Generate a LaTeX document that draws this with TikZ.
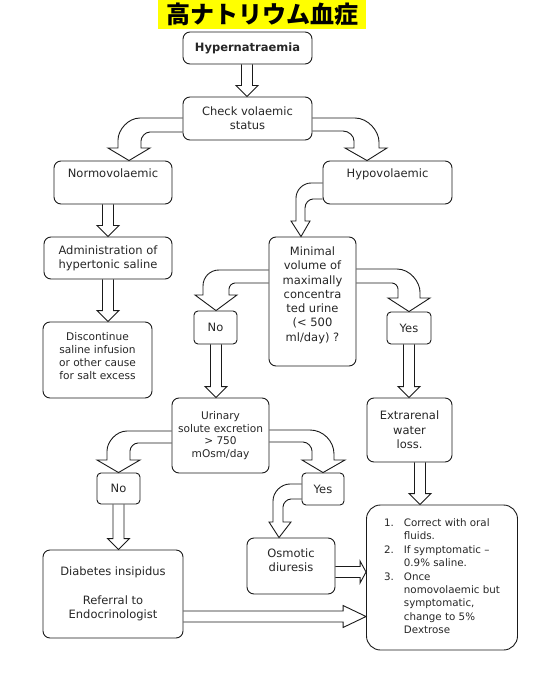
\documentclass[tikz,border=0pt]{standalone}
\usepackage{fontspec}
\setmainfont{DejaVu Sans}
\newfontfamily\cjk{Noto Sans CJK JP}
\usetikzlibrary{calc}
\definecolor{fline}{HTML}{1A1A1A}
\definecolor{ftext}{HTML}{262626}
\definecolor{fyellow}{HTML}{FFFF00}
\newcommand{\fsmain}{\fontsize{11.5}{14.3}\selectfont}
\newcommand{\fssmall}{\fontsize{10.6}{12.8}\selectfont}
\newcommand{\fslist}{\fontsize{10.3}{13.4}\selectfont}
\tikzset{
  box/.style = {draw=fline, line width=0.9pt, rounded corners=7pt,
                align=center, text=ftext, font=\fsmain, inner sep=1pt},
  tag/.style = {box, rounded corners=4pt},
  blk/.style = {draw=fline, line width=0.9pt, line join=miter},
}
% hollow block arrow, straight down: x, from, to
\newcommand{\vblk}[3]{%
  \draw[blk] let \p1=(#2.south), \p2=(#3.north) in
    (#1pt-5.5pt,\y1) -- (#1pt-5.5pt,\y2+11pt) -- (#1pt-11pt,\y2+11pt)
    -- (#1pt,\y2) -- (#1pt+11pt,\y2+11pt) -- (#1pt+5.5pt,\y2+11pt)
    -- (#1pt+5.5pt,\y1);}
% hollow block arrow, straight right: y, from, to, head length
\newcommand{\hblk}[4]{%
  \draw[blk] let \p1=(#2.east), \p2=(#3.west) in
    (\x1,-#1pt+5.5pt) -- (\x2-#4pt,-#1pt+5.5pt) -- (\x2-#4pt,-#1pt+11pt)
    -- (\x2,-#1pt) -- (\x2-#4pt,-#1pt-11pt) -- (\x2-#4pt,-#1pt-5.5pt)
    -- (\x1,-#1pt-5.5pt);}

\begin{document}
\begin{tikzpicture}[x=1pt, y=-1pt]
\useasboundingbox (0,0) rectangle (538,700);
% ---- title ----
\node[fill=fyellow, minimum width=208, minimum height=29, inner sep=0pt,
      font={\cjk\bfseries\fontsize{24}{28}\selectfont}] (title) at (262,14.5) {高ナトリウム血症};
% ---- boxes ----
\node[box, minimum width=129, minimum height=32] (hyper) at (247.5,48) {\textbf{Hypernatraemia}};
\node[box, minimum width=129, minimum height=43] (check) at (247.5,118.5) {Check volaemic\\status};
\node[box, minimum width=118, minimum height=43] (normo) at (113,182.5) {Normovolaemic\\\strut};
\node[box, minimum width=129, minimum height=43] (hypo) at (387.5,182.5) {Hypovolaemic\\\strut};
\node[box, minimum width=128, minimum height=42] (admin) at (108,258) {Administration of\\hypertonic saline};
\node[box, minimum width=109, minimum height=76, font=\fssmall, text depth=8pt] (disc) at (97.5,360)
  {Discontinue\\saline infusion\\or other cause\\for salt excess};
\node[box, minimum width=87, minimum height=129, text depth=15pt] (minimal) at (312.5,301.5)
  {Minimal\\volume of\\maximally\\concentra\\ted urine\\(< 500\\ml/day) ?};
\node[tag, minimum width=43, minimum height=33] (noa) at (215.5,327.5) {No};
\node[tag, minimum width=44, minimum height=32] (yesa) at (409,328) {Yes};
\node[box, minimum width=97, minimum height=75, font=\fssmall] (urinary) at (220.5,435.5)
  {Urinary\\solute excretion\\> 750\\mOsm/day};
\node[box, minimum width=85, minimum height=64] (extra) at (409.5,430) {Extrarenal\\water\\loss.};
\node[tag, minimum width=43, minimum height=31] (nob) at (118.5,488.5) {No};
\node[tag, minimum width=42, minimum height=32] (yesb) at (323,489) {Yes};
\node[box, minimum width=88, minimum height=56, text depth=12pt] (osm) at (291,566) {Osmotic\\diuresis};
\node[box, minimum width=140, minimum height=88] (diab) at (113,594)
  {Diabetes insipidus\\[14.3pt]Referral to\\Endocrinologist};
\node[box, rounded corners=14pt, minimum width=151, minimum height=145, font=\fslist] (correct) at (442,577.5)
  {\begin{tabular}{@{}l@{\hspace{10pt}}l@{}}
   1. & Correct with oral\\
      & fluids.\\
   2. & If symptomatic --\\
      & 0.9\% saline.\\
   3. & Once\\
      & nomovolaemic but\\
      & symptomatic,\\
      & change to 5\%\\
      & Dextrose
   \end{tabular}};
% ---- straight block arrows ----
\vblk{247}{hyper}{check}
\vblk{108}{normo}{admin}
\vblk{108}{admin}{disc}
\vblk{216}{noa}{urinary}
\vblk{409}{yesa}{extra}
\vblk{420}{extra}{correct}
\vblk{118.5}{nob}{diab}
\hblk{572}{osm}{correct}{6}
\hblk{616.5}{diab}{correct}{23}
% ---- curved block arrows ----
% check -> normovolaemic
\draw[blk] (check.west |- 0,118) -- (140,118) .. controls (128,118) and (118,130) .. (118,140)
  -- (118,148) -- (108,148) -- (129,0 |- normo.north) -- (150,148) -- (141,148) -- (141,141)
  .. controls (141,137) and (145,132) .. (150,132) -- (check.west |- 0,132);
% check -> hypovolaemic
\draw[blk] (check.east |- 0,118) -- (355,118) .. controls (368,118) and (379,131) .. (379,142)
  -- (379,148) -- (387,148) -- (367,0 |- hypo.north) -- (345,148) -- (354,148) -- (354,141)
  .. controls (354,136) and (349,131) .. (343,131) -- (check.east |- 0,131);
% hypovolaemic -> minimal volume
\draw[blk] (hypo.west |- 0,183) -- (311,183) .. controls (303,183) and (296,190) .. (296,198)
  -- (296,221) -- (291,221) -- (301,0 |- minimal.north) -- (310,221) -- (305,221) -- (305,208)
  .. controls (305,203) and (309,199) .. (313,199) -- (hypo.west |- 0,199);
% minimal volume -> no
\draw[blk] (minimal.west |- 0,270) -- (219,270) .. controls (210,270) and (203,277) .. (203,286)
  -- (203,295) -- (195,295) -- (216,0 |- noa.north) -- (237,295) -- (229,295) -- (229,289)
  .. controls (229,286) and (232,283) .. (235,283) -- (minimal.west |- 0,283);
% minimal volume -> yes
\draw[blk] (minimal.east |- 0,269) -- (397,269) .. controls (410,269) and (420,282) .. (420,292)
  -- (420,298) -- (430,298) -- (409,0 |- yesa.north) -- (388,298) -- (398,298) -- (398,289)
  .. controls (398,286) and (395,283) .. (392,283) -- (minimal.east |- 0,283);
% urinary -> no
\draw[blk] (urinary.west |- 0,431) -- (127,431) .. controls (116,431) and (107,442) .. (107,451)
  -- (107,460) -- (97,460) -- (118.5,0 |- nob.north) -- (140,460) -- (130,460) -- (130,451)
  .. controls (130,447) and (134,443) .. (138,443) -- (urinary.west |- 0,443);
% urinary -> yes
\draw[blk] (urinary.east |- 0,430) -- (310,430) .. controls (323,430) and (334,441) .. (334,454)
  -- (334,460) -- (345,460) -- (323,0 |- yesb.north) -- (302,460) -- (312,460) -- (312,451)
  .. controls (312,447) and (308,442) .. (303,442) -- (urinary.east |- 0,442);
% yes -> osmotic diuresis
\draw[blk] (yesb.west |- 0,484) -- (290,484) .. controls (281,484) and (273,492) .. (273,501)
  -- (273,522) -- (269,522) -- (279,0 |- osm.north) -- (291,522) -- (283,522) -- (283,507)
  .. controls (283,503) and (287,499) .. (291,499) -- (yesb.west |- 0,499);
\end{tikzpicture}
\end{document}
